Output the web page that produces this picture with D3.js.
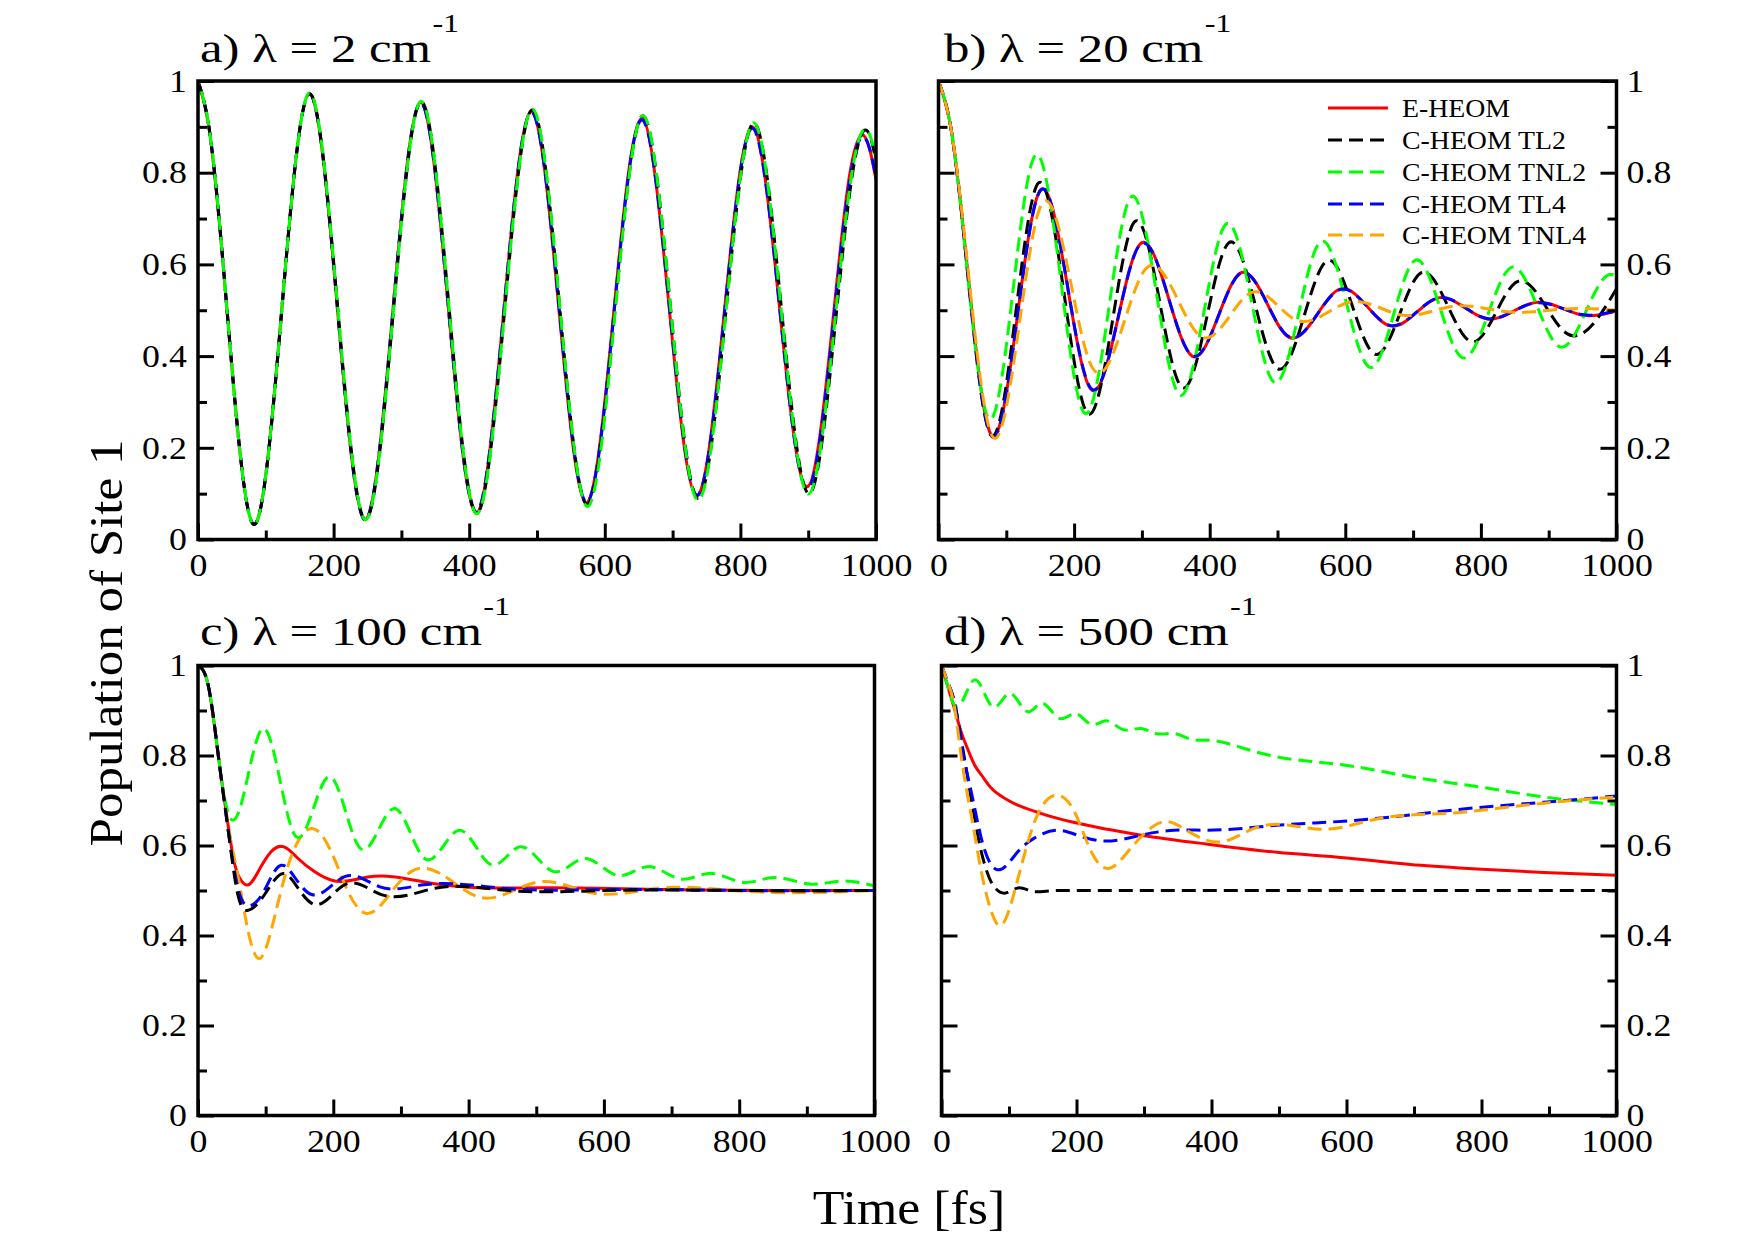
<!DOCTYPE html>
<html><head><meta charset="utf-8">
<script src="https://cdn.jsdelivr.net/npm/d3@7"></script>
<style>
body{margin:0;background:#fff;}
svg{display:block;font-family:"Liberation Serif","Times New Roman",serif;}
</style></head><body>
<svg id="chart" width="1755" height="1240"></svg>
<script>
// ---------- series names / styles ----------
const seriesNames = ["E-HEOM","C-HEOM TL2","C-HEOM TNL2","C-HEOM TL4","C-HEOM TNL4"];
const seriesColors = ["#ff0000","#000000","#00ff00","#0000ff","#ffa500"];

// ---------- tick values / labels ----------
const xMajor = [0,200,400,600,800,1000];
const xLabels = ["0","200","400","600","800","1000"];
const xMinor = [100,300,500,700,900];
const yMajor = [0,0.2,0.4,0.6,0.8,1];
const yLabels = ["0","0.2","0.4","0.6","0.8","1"];
const yMinor = [0.1,0.3,0.5,0.7,0.9];

// ---------- panel a) lambda = 2 cm-1 ----------
const aTimeRed  = [0, 15, 82, 164, 246, 328, 410, 491, 572, 654, 735, 817, 898, 938, 960, 979, 990, 1000];
const aRed      = [1.0, 0.91, 0.033, 0.972, 0.043, 0.953, 0.058, 0.934, 0.08, 0.918, 0.095, 0.9, 0.115, 0.50, 0.785, 0.882, 0.855, 0.785];
const aTimeTL2  = [0, 15, 82, 164, 247, 329, 411, 493, 573, 656, 737, 820, 901, 942, 964, 984, 992, 1000];
const aTL2      = [1.0, 0.91, 0.033, 0.972, 0.043, 0.955, 0.058, 0.937, 0.077, 0.924, 0.09, 0.908, 0.1, 0.50, 0.785, 0.893, 0.876, 0.825];
const aTimeTNL2 = [0, 15, 82, 164, 247, 329, 411, 493, 574, 656, 737, 820, 900, 941, 963, 984, 992, 1000];
const aTNL2     = [1.0, 0.91, 0.033, 0.974, 0.043, 0.956, 0.056, 0.939, 0.072, 0.925, 0.086, 0.909, 0.099, 0.50, 0.785, 0.895, 0.878, 0.83];
const aTimeTL4  = [0, 15, 82, 164, 246, 328, 410, 491, 573, 654, 736, 817, 899, 939, 961, 980, 990, 1000];
const aTL4      = [1.0, 0.91, 0.033, 0.972, 0.043, 0.952, 0.06, 0.932, 0.082, 0.915, 0.097, 0.897, 0.11, 0.50, 0.78, 0.878, 0.855, 0.79];

// ---------- panel b) lambda = 20 cm-1 ----------
const bTimeRed  = [0, 18, 77, 148.5, 224, 296, 374, 445, 516, 592, 666, 737, 809, 880, 951, 1000];
const bRed      = [1.0, 0.90, 0.230, 0.758, 0.329, 0.642, 0.400, 0.581, 0.442, 0.546, 0.466, 0.527, 0.481, 0.517, 0.489, 0.499];
const bTimeTL2  = [0, 18, 77, 146.5, 221, 290, 359, 428, 500, 575, 644, 711, 787, 853, 927, 1000];
const bTL2      = [1.0, 0.90, 0.228, 0.776, 0.274, 0.694, 0.332, 0.647, 0.373, 0.609, 0.404, 0.581, 0.431, 0.562, 0.449, 0.547];
const bTimeTNL2 = [0, 18, 74, 142.6, 216, 284, 356, 425, 496, 563, 637, 703, 772, 846, 917, 990, 1000];
const bTNL2     = [1.0, 0.90, 0.264, 0.838, 0.275, 0.747, 0.315, 0.689, 0.342, 0.649, 0.375, 0.609, 0.397, 0.594, 0.420, 0.578, 0.575];
const bTimeTL4  = [0, 18, 77, 148.5, 224, 296, 374, 445, 516, 592, 666, 737, 809, 880, 951, 1000];
const bTL4      = [1.0, 0.90, 0.228, 0.757, 0.331, 0.641, 0.401, 0.580, 0.443, 0.545, 0.467, 0.527, 0.482, 0.516, 0.490, 0.499];
const bTimeTNL4 = [0, 18, 79, 150, 226, 306, 388, 462, 527, 607, 686, 760, 843, 925, 1000];
const bTNL4     = [1.0, 0.90, 0.226, 0.725, 0.377, 0.591, 0.442, 0.539, 0.479, 0.518, 0.489, 0.509, 0.496, 0.503, 0.50];

// ---------- panel c) lambda = 100 cm-1 ----------
const cTimeRed  = [0, 15, 30, 45, 54, 64, 73, 89, 108, 127, 148, 172, 202, 251, 345, 503, 700, 1000];
const cRed      = [1.0, 0.957, 0.80, 0.64, 0.56, 0.522, 0.512, 0.542, 0.586, 0.597, 0.571, 0.542, 0.521, 0.530, 0.516, 0.506, 0.502, 0.50];
const cTimeTL2  = [0, 15, 30, 45, 59, 74, 98, 113, 126, 148, 172, 217, 271, 350, 450, 600, 800, 1000];
const cTL2      = [1.0, 0.957, 0.80, 0.63, 0.49, 0.456, 0.49, 0.523, 0.538, 0.505, 0.469, 0.513, 0.491, 0.505, 0.501, 0.50, 0.50, 0.50];
const cTimeTNL2 = [0, 15, 30, 40, 52, 96, 143, 195, 239, 291, 335, 387, 434, 476, 526, 570, 622, 664, 716, 755, 807, 851, 906, 950, 1000];
const cTNL2     = [1.0, 0.957, 0.80, 0.70, 0.656, 0.860, 0.623, 0.753, 0.595, 0.682, 0.571, 0.634, 0.557, 0.597, 0.542, 0.571, 0.533, 0.553, 0.525, 0.538, 0.518, 0.529, 0.514, 0.521, 0.510];
const cTimeTL4  = [0, 15, 30, 45, 60, 76, 98, 110, 123, 145, 168, 217, 269, 330, 450, 600, 800, 1000];
const cTL4      = [1.0, 0.957, 0.80, 0.63, 0.50, 0.466, 0.50, 0.535, 0.556, 0.525, 0.491, 0.531, 0.508, 0.512, 0.505, 0.502, 0.50, 0.50];
const cTimeTNL4 = [0, 15, 30, 45, 60, 74, 91, 113, 130, 150, 168, 197, 222, 249, 286, 315, 338, 419, 503, 585, 680, 800, 1000];
const cTNL4     = [1.0, 0.957, 0.80, 0.64, 0.525, 0.41, 0.349, 0.44, 0.54, 0.615, 0.638, 0.586, 0.497, 0.449, 0.497, 0.542, 0.549, 0.484, 0.519, 0.494, 0.505, 0.499, 0.50];

// ---------- panel d) lambda = 500 cm-1 ----------
const dTimeRed  = [0, 10, 20, 29, 40, 49, 60, 74, 98, 148, 197, 246, 296, 394, 497, 596, 694, 793, 892, 1000];
const dRed      = [1.0, 0.95, 0.90, 0.853, 0.81, 0.779, 0.755, 0.727, 0.701, 0.671, 0.651, 0.636, 0.623, 0.603, 0.585, 0.573, 0.558, 0.548, 0.540, 0.534];
const dTimeTL2  = [0, 10, 19, 31.5, 44, 59, 78, 93, 115, 140, 170, 250, 500, 750, 1000];
const dTL2      = [1.0, 0.96, 0.92, 0.816, 0.705, 0.586, 0.508, 0.494, 0.506, 0.497, 0.50, 0.50, 0.50, 0.50, 0.50];
const dTimeTNL2 = [0, 10, 19, 49, 76, 101, 128, 148, 175, 199, 222, 244, 268, 296, 320, 345, 370, 394, 450, 497, 596, 694, 793, 892, 1000];
const dTNL2     = [1.0, 0.95, 0.912, 0.968, 0.908, 0.938, 0.897, 0.916, 0.882, 0.893, 0.869, 0.877, 0.858, 0.860, 0.848, 0.849, 0.836, 0.834, 0.815, 0.797, 0.779, 0.753, 0.731, 0.708, 0.691];
const dTimeTL4  = [0, 10, 19, 30, 44, 59, 81, 113, 138, 172, 207, 241, 296, 345, 394, 497, 596, 694, 793, 892, 1000];
const dTL4      = [1.0, 0.96, 0.92, 0.82, 0.72, 0.616, 0.547, 0.586, 0.617, 0.634, 0.620, 0.610, 0.623, 0.634, 0.634, 0.645, 0.654, 0.668, 0.684, 0.696, 0.710];
const dTimeTNL4 = [0, 10, 19, 29, 44, 59, 74, 86, 108, 138, 167, 197, 222, 246, 276, 306, 330, 365, 414, 463, 497, 566, 645, 744, 843, 941, 1000];
const dTNL4     = [1.0, 0.96, 0.91, 0.80, 0.667, 0.542, 0.453, 0.422, 0.497, 0.653, 0.711, 0.675, 0.586, 0.549, 0.586, 0.634, 0.653, 0.632, 0.608, 0.638, 0.647, 0.636, 0.659, 0.671, 0.686, 0.701, 0.708];

// ---------- layout (positions only) ----------
const panels = [
  {label:"a) λ = 2 cm", x0:198, x1:876, y0:81, y1:539.5, right:false, tx:200, ty:62,
   series:[[0,aTimeRed,aRed,"spline"],[3,aTimeTL4,aTL4,"spline"],[1,aTimeTL2,aTL2,"spline"],[2,aTimeTNL2,aTNL2,"spline"]]},
  {label:"b) λ = 20 cm", x0:938.5, x1:1616.5, y0:81, y1:539.5, right:true, tx:944, ty:62,
   series:[[0,bTimeRed,bRed,"spline"],[1,bTimeTL2,bTL2,"spline"],[2,bTimeTNL2,bTNL2,"spline"],[3,bTimeTL4,bTL4,"spline"],[4,bTimeTNL4,bTNL4,"spline"]]},
  {label:"c) λ = 100 cm", x0:198, x1:874.5, y0:665.5, y1:1115.5, right:false, tx:200, ty:645,
   series:[[0,cTimeRed,cRed,"spline"],[4,cTimeTNL4,cTNL4,"spline"],[2,cTimeTNL2,cTNL2,"spline"],[3,cTimeTL4,cTL4,"spline"],[1,cTimeTL2,cTL2,"spline"]]},
  {label:"d) λ = 500 cm", x0:941.5, x1:1616.5, y0:665.5, y1:1115.5, right:true, tx:944, ty:645,
   series:[[0,dTimeRed,dRed,"monotone"],[1,dTimeTL2,dTL2,"monotone"],[2,dTimeTNL2,dTNL2,"spline"],[3,dTimeTL4,dTL4,"spline"],[4,dTimeTNL4,dTNL4,"spline"]]}
];

// ---------- natural cubic spline of y as a function of x (d3 curve factory) ----------
function CurveNaturalX(context){ this._context = context; }
CurveNaturalX.prototype = {
  areaStart(){ this._line = 0; },
  areaEnd(){ this._line = NaN; },
  lineStart(){ this._x = []; this._y = []; },
  point(x, y){ this._x.push(+x); this._y.push(+y); },
  lineEnd(){
    const X = this._x, Y = this._y, n = X.length, c = this._context;
    if (n) {
      this._line ? c.lineTo(X[0], Y[0]) : c.moveTo(X[0], Y[0]);
      if (n === 2) c.lineTo(X[1], Y[1]);
      else if (n > 2) {
        const h = [], M = new Array(n).fill(0);
        for (let i = 0; i < n - 1; i++) h.push(X[i+1] - X[i]);
        const a = [], b = [], cc = [], r = [];
        for (let i = 1; i < n - 1; i++) {
          a.push(h[i-1]); b.push(2 * (h[i-1] + h[i])); cc.push(h[i]);
          r.push(6 * ((Y[i+1] - Y[i]) / h[i] - (Y[i] - Y[i-1]) / h[i-1]));
        }
        const m = b.length;
        for (let i = 1; i < m; i++) {
          const w = a[i] / b[i-1];
          b[i] -= w * cc[i-1]; r[i] -= w * r[i-1];
        }
        const sol = new Array(m);
        sol[m-1] = r[m-1] / b[m-1];
        for (let i = m - 2; i >= 0; i--) sol[i] = (r[i] - cc[i] * sol[i+1]) / b[i];
        for (let i = 0; i < m; i++) M[i+1] = sol[i];
        for (let i = 0; i < n - 1; i++) {
          const hi = h[i], s = (Y[i+1] - Y[i]) / hi;
          const d0 = s - hi * (2 * M[i] + M[i+1]) / 6;
          const d1 = s + hi * (M[i] + 2 * M[i+1]) / 6;
          c.bezierCurveTo(X[i] + hi/3, Y[i] + d0*hi/3, X[i+1] - hi/3, Y[i+1] - d1*hi/3, X[i+1], Y[i+1]);
        }
      }
    }
    if (this._line || (this._line !== 0 && n === 1)) c.closePath();
    this._line = 1 - this._line;
    this._x = this._y = null;
  }
};
const curveNaturalX = context => new CurveNaturalX(context);

const svg = d3.select("#chart");
const FONT = '"Liberation Serif","Times New Roman",serif';
const curves = {spline:curveNaturalX, monotone:d3.curveMonotoneX};
const TICK_FS = 32, TICK_SX = 1.12;

function styleAxis(g){
  g.select(".domain").remove();
  g.attr("font-family", FONT).attr("font-size", TICK_FS);
  g.selectAll(".tick line").attr("stroke","#000").attr("stroke-width",3);
  g.selectAll(".tick text").attr("fill","#000").attr("transform",`scale(${TICK_SX},1)`);
}

panels.forEach((p, pi) => {
  const x = d3.scaleLinear().domain([0,1000]).range([p.x0,p.x1]);
  const y = d3.scaleLinear().domain([0,1]).range([p.y1,p.y0]);
  const g = svg.append("g");
  const clipId = "clip"+pi;
  svg.append("clipPath").attr("id",clipId).append("rect")
    .attr("x",p.x0).attr("y",p.y0-2).attr("width",p.x1-p.x0).attr("height",p.y1-p.y0+4);

  const cg = g.append("g").attr("clip-path",`url(#${clipId})`);
  p.series.forEach(s => {
    const [idx, ts, vs, cv] = s;
    const pts = ts.map((t,i)=>[t, vs[i]]);
    const line = d3.line().x(d=>x(d[0])).y(d=>y(d[1])).curve(curves[cv]);
    cg.append("path").attr("d", line(pts))
      .attr("fill","none").attr("stroke", seriesColors[idx])
      .attr("stroke-width",3)
      .attr("stroke-dasharray", idx===0 ? null : "14,7")
      .attr("stroke-dashoffset", idx===2 ? 10 : 0);
  });

  // bottom axis
  const xb = g.append("g").attr("transform",`translate(0,${p.y1})`)
    .call(d3.axisBottom(x).tickValues(xMajor).tickFormat((d,i)=>xLabels[i]).tickSizeInner(-16).tickSizeOuter(0).tickPadding(14));
  styleAxis(xb);
  const xm = g.append("g").attr("transform",`translate(0,${p.y1})`)
    .call(d3.axisBottom(x).tickValues(xMinor).tickFormat("").tickSizeInner(-9).tickSizeOuter(0));
  styleAxis(xm);

  // left axis
  const yl = g.append("g").attr("transform",`translate(${p.x0},0)`)
    .call(d3.axisLeft(y).tickValues(yMajor).tickFormat((d,i)=>p.right ? "" : yLabels[i]).tickSizeInner(-16).tickSizeOuter(0).tickPadding(10));
  styleAxis(yl);
  const ylm = g.append("g").attr("transform",`translate(${p.x0},0)`)
    .call(d3.axisLeft(y).tickValues(yMinor).tickFormat("").tickSizeInner(-9).tickSizeOuter(0));
  styleAxis(ylm);

  if (p.right){
    const yr = g.append("g").attr("transform",`translate(${p.x1},0)`)
      .call(d3.axisRight(y).tickValues(yMajor).tickFormat((d,i)=>yLabels[i]).tickSizeInner(-16).tickSizeOuter(0).tickPadding(9));
    styleAxis(yr);
    const yrm = g.append("g").attr("transform",`translate(${p.x1},0)`)
      .call(d3.axisRight(y).tickValues(yMinor).tickFormat("").tickSizeInner(-9).tickSizeOuter(0));
    styleAxis(yrm);
  }

  // frame
  g.append("rect").attr("x",p.x0).attr("y",p.y0).attr("width",p.x1-p.x0).attr("height",p.y1-p.y0)
    .attr("fill","none").attr("stroke","#000").attr("stroke-width",3.5);

  // title
  const t = g.append("text").attr("transform",`translate(${p.tx},${p.ty}) scale(1.24,1)`)
    .attr("font-size",41).attr("fill","#000");
  t.append("tspan").text(p.label);
  t.append("tspan").attr("dx",1).attr("dy",-30).attr("font-size",26).text("-1");
});

// legend in panel b
const legY = [108, 140, 172, 204, 235];
seriesNames.forEach((n,i) => {
  svg.append("line").attr("x1",1328).attr("x2",1388).attr("y1",legY[i]).attr("y2",legY[i])
    .attr("stroke",seriesColors[i]).attr("stroke-width",3)
    .attr("stroke-dasharray", i===0 ? null : "14,7");
  svg.append("text").attr("transform",`translate(1402,${legY[i]+9}) scale(1.07,1)`)
    .attr("font-size",26).attr("fill","#000").text(n);
});

// axis titles
svg.append("text").attr("transform","translate(122,643) rotate(-90) scale(1.11,1)")
  .attr("text-anchor","middle").attr("font-size",46).attr("fill","#000").text("Population of Site 1");
svg.append("text").attr("transform","translate(909,1224) scale(1.08,1)").attr("text-anchor","middle")
  .attr("font-size",48).attr("fill","#000").text("Time [fs]");
</script></body></html>
